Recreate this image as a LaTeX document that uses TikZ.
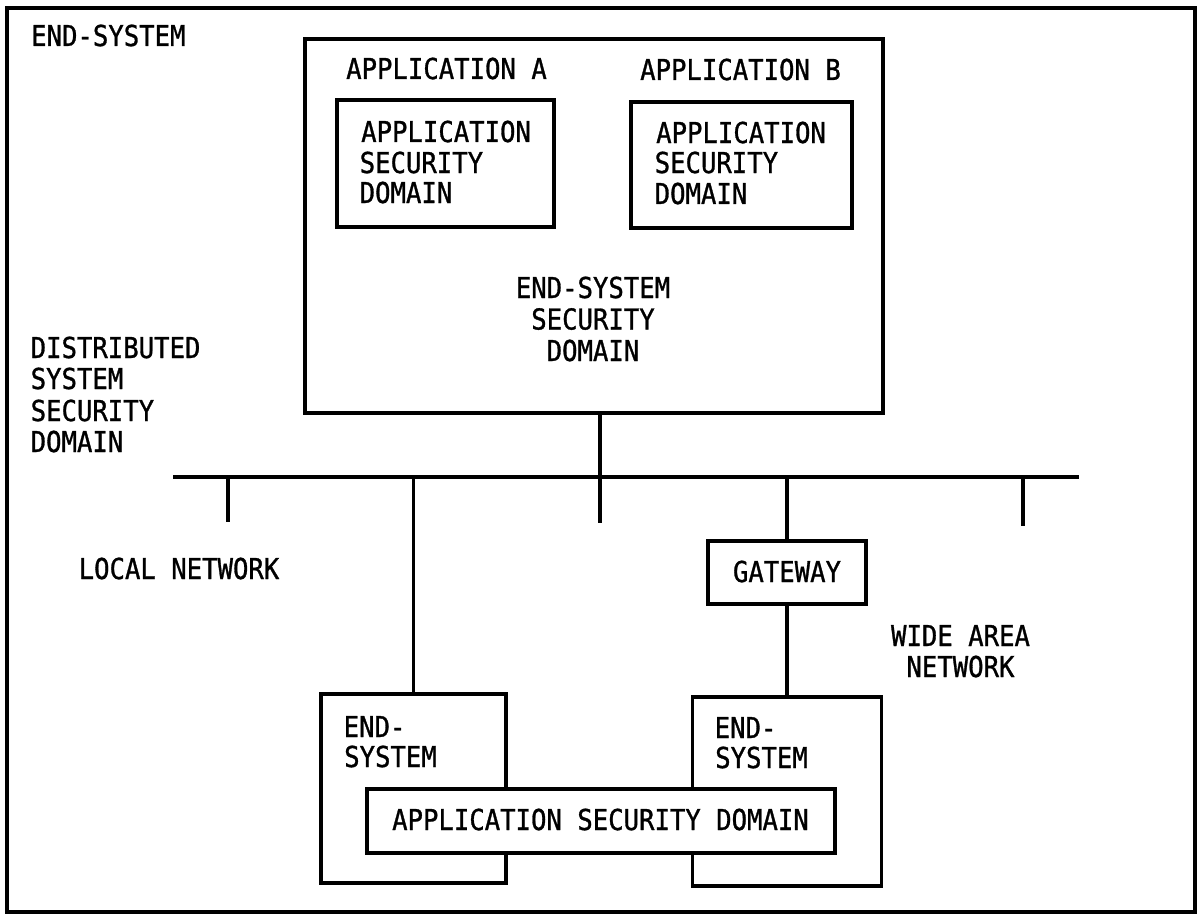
\documentclass[tikz,border=0pt]{standalone}
\usepackage{fontspec}
\setmainfont[FakeStretch=0.89,FakeBold=1.0]{DejaVu Sans Mono}
\begin{document}
\begin{tikzpicture}[x=1pt,y=-1pt,
  box/.style={draw, line width=3.2pt, inner sep=0pt, minimum width=#1},
  lbl/.style={anchor=base west, inner sep=0pt},
  clbl/.style={anchor=base, inner sep=0pt},
  wire/.style={line width=3.2pt},
  every node/.style={font=\fontsize{28.8}{31}\selectfont}]
\useasboundingbox (0,0) rectangle (1197,915);
% outer frame
\node[box=1188pt, minimum height=904pt] (frame) at (601,460) {};
\node[lbl] (tEndSys) at (31,46) {END-SYSTEM};
% end-system (top)
\node[box=578pt, minimum height=374pt] (es) at (594,226) {};
\node[lbl] (tAppA) at (346,79) {APPLICATION A};
\node[lbl] (tAppB) at (640,80) {APPLICATION B};
\node[box=217pt, minimum height=127pt] (asdA) at (445.5,163.5) {};
\node[box=221pt, minimum height=126pt] (asdB) at (741.5,165) {};
\node[lbl] (tA1) at (361,142) {APPLICATION};
\node[lbl] (tA2) at (359.5,173) {SECURITY};
\node[lbl] (tA3) at (359.5,203) {DOMAIN};
\node[lbl] (tB1) at (656,143) {APPLICATION};
\node[lbl] (tB2) at (654.5,173) {SECURITY};
\node[lbl] (tB3) at (654.5,204) {DOMAIN};
\node[clbl] (tE1) at (593,298) {END-SYSTEM};
\node[clbl] (tE2) at (593,329.5) {SECURITY};
\node[clbl] (tE3) at (593,361) {DOMAIN};
% distributed
\node[lbl] (tD1) at (30.5,358) {DISTRIBUTED};
\node[lbl] (tD2) at (30.5,389) {SYSTEM};
\node[lbl] (tD3) at (30.5,421) {SECURITY};
\node[lbl] (tD4) at (30.5,452) {DOMAIN};
% bus
\coordinate (busL) at (173,477);
\coordinate (busR) at (1079,477);
\coordinate (b1) at (228,477);
\coordinate (b1e) at (228,522);
\coordinate (b2) at (413.5,477);
\coordinate (b3) at (600,477);
\coordinate (b3e) at (600,523);
\coordinate (b4) at (787,477);
\coordinate (b5) at (1023,477);
\coordinate (b5e) at (1023,526);
\draw[wire] (busL) -- (busR);
\draw[wire] (b1) -- (b1e);
\draw[wire] (b3 |- es.south) -- (b3e);
\draw[wire] (b5) -- (b5e);
\node[lbl] (tLN) at (78.5,579) {LOCAL NETWORK};
% gateway
\node[box=158pt, minimum height=63pt] (gw) at (787,572.5) {};
\node[clbl] (tGW) at (787,582) {GATEWAY};
\draw[wire] (b4) -- (gw.north);
\node[clbl] (tW1) at (960.5,646) {WIDE AREA};
\node[clbl] (tW2) at (960.5,677) {NETWORK};
% lower end-systems
\node[box=185pt, minimum height=189pt] (esL) at (413.5,788.5) {};
\node[box=189pt, minimum height=189pt] (esR) at (787,791.5) {};
\draw[wire] (b2) -- (esL.north);
\draw[wire] (gw.south) -- (esR.north);
\node[lbl] (tL1) at (343.5,737) {END-};
\node[lbl] (tL2) at (344,767) {SYSTEM};
\node[lbl] (tR1) at (714.5,738) {END-};
\node[lbl] (tR2) at (715,768) {SYSTEM};
% application security domain across end-systems
\node[box=468pt, minimum height=64pt, fill=white] (asd) at (601,821) {};
\node[clbl] (tASD) at (600.5,830) {APPLICATION SECURITY DOMAIN};
\end{tikzpicture}
\end{document}
